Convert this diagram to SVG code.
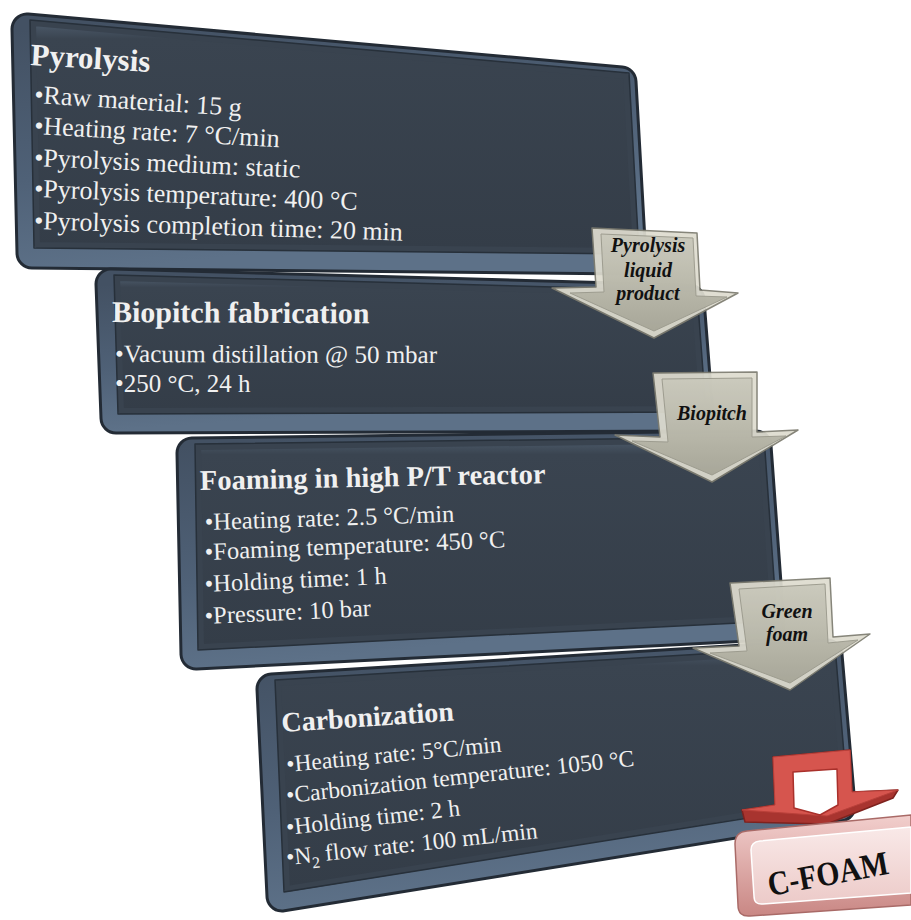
<svg xmlns="http://www.w3.org/2000/svg" width="911" height="920" viewBox="0 0 911 920">
<defs>
<linearGradient id="frameG" x1="0" y1="0" x2="0.3" y2="1"><stop offset="0" stop-color="#435163"/><stop offset="0.6" stop-color="#4f6177"/><stop offset="1" stop-color="#5d7188"/></linearGradient>
<linearGradient id="panelG" x1="0" y1="0" x2="0" y2="1"><stop offset="0" stop-color="#4c5a6a"/><stop offset="0.07" stop-color="#3a4450"/><stop offset="1" stop-color="#343d48"/></linearGradient>
<linearGradient id="arrowG" x1="0" y1="0" x2="0" y2="1"><stop offset="0" stop-color="#cac9bc"/><stop offset="0.5" stop-color="#b9b8aa"/><stop offset="1" stop-color="#a5a496"/></linearGradient>
<linearGradient id="pinkG" x1="0" y1="0" x2="0" y2="1"><stop offset="0" stop-color="#f2cfcd"/><stop offset="1" stop-color="#c98784"/></linearGradient>
<linearGradient id="pinkIn" x1="0" y1="0" x2="0" y2="1"><stop offset="0" stop-color="#f9e9e8"/><stop offset="1" stop-color="#eccac8"/></linearGradient>
</defs>
<style>
.rim{fill:#232b35;stroke:#232b35;stroke-width:33;stroke-linejoin:round}
.frame{fill:url(#frameG);stroke:url(#frameG);stroke-width:27;stroke-linejoin:round}
.panel{fill:url(#panelG);stroke:#39434f;stroke-width:6;stroke-linejoin:round}
.pedge{fill:none;stroke:#27303a;stroke-width:1.5;stroke-linejoin:round}
.t{font-family:"Liberation Serif","Times New Roman",serif;fill:#f0f0f0}
.h{font-weight:bold}
.ab{fill:#dedccf;stroke:#7d7c70;stroke-width:1.5;stroke-linejoin:round;opacity:0.93}
.af{fill:url(#arrowG);stroke:#9a998c;stroke-width:1;opacity:0.93}
.al{font-family:"Liberation Serif","Times New Roman",serif;font-style:italic;font-weight:bold;font-size:20px;fill:#111;text-anchor:middle}
</style>

<g id="node-pyrolysis">
<polygon class="rim" points="27,29 621,82 631,259 32,253"/>
<polygon class="frame" points="27,29 621,82 631,259 32,253"/>
<polygon class="panel" points="33,23 626,76 636,251 37,245"/>
<polygon class="pedge" points="30,20 629,73 639,254 34,248"/>
<text class="t h" font-size="31" transform="translate(30,65) rotate(3.3)">Pyrolysis</text>
<g class="t" font-size="26">
<text transform="translate(34,103) rotate(3.6)">•Raw material: 15 g</text>
<text transform="translate(34,134) rotate(3.1)">•Heating rate: 7 °C/min</text>
<text transform="translate(34,166) rotate(2.5)">•Pyrolysis medium: static</text>
<text transform="translate(34,197) rotate(2.3)">•Pyrolysis temperature: 400 °C</text>
<text transform="translate(34,229) rotate(1.8)">•Pyrolysis completion time: 20 min</text>
</g>
</g>

<g id="node-biopitch">
<polygon class="rim" points="111,284 689,300 698,416 116,418"/>
<polygon class="frame" points="111,284 689,300 698,416 116,418"/>
<polygon class="panel" points="117,278 694,294 703,409 121,411"/>
<polygon class="pedge" points="114,275 697,291 706,412 118,414"/>
<text class="t h" font-size="30" transform="translate(112,322) rotate(0.3)">Biopitch fabrication</text>
<g class="t" font-size="25">
<text transform="translate(115,362) rotate(0.2)">•Vacuum distillation @ 50 mbar</text>
<text transform="translate(115,392)">•250 °C, 24 h</text>
</g>
</g>

<g id="node-foaming">
<polygon class="rim" points="192,453 756,446 769,625 196,654"/>
<polygon class="frame" points="192,453 756,446 769,625 196,654"/>
<polygon class="panel" points="198,447 761,440 774,618 201,647"/>
<polygon class="pedge" points="195,444 764,437 777,621 198,650"/>
<text class="t h" font-size="28.5" transform="translate(200,490) rotate(-1.1)">Foaming in high P/T reactor</text>
<g class="t" font-size="24.5">
<text transform="translate(205,530) rotate(-1.9)">•Heating rate: 2.5 °C/min</text>
<text transform="translate(205,560) rotate(-2.4)">•Foaming temperature: 450 °C</text>
<text transform="translate(205,592) rotate(-2.6)">•Holding time: 1 h</text>
<text transform="translate(205,624) rotate(-2.8)">•Pressure: 10 bar</text>
</g>
</g>

<g id="node-carbonization">
<polygon class="rim" points="272,689 827,655 840,806 282,896"/>
<polygon class="frame" points="272,689 827,655 840,806 282,896"/>
<polygon class="panel" points="278,683 832,649 845,799 287,889"/>
<polygon class="pedge" points="275,680 835,646 848,802 284,892"/>
<text class="t h" font-size="28" transform="translate(282,732) rotate(-3.8)">Carbonization</text>
<g class="t" font-size="23.5">
<text transform="translate(287,772) rotate(-5.4)">•Heating rate: 5°C/min</text>
<text transform="translate(287,803) rotate(-6.1)">•Carbonization temperature: 1050 °C</text>
<text transform="translate(287,835) rotate(-6.4)">•Holding time: 2 h</text>
<text transform="translate(287,865) rotate(-6.1)">•N<tspan font-size="16" dy="6">2</tspan><tspan dy="-6"> flow rate: 100 mL/min</tspan></text>
</g>
</g>

<g id="connectors">
<g id="arrow-pyrolysis-liquid">
<polygon class="ab" points="592,228 697,233 700,290 738,293 654,338 552,288 596,287"/>
<polygon class="af" points="601,234 693,238 696,296 727,297 654,331 570,293 604,292"/>
<text class="al" x="648" y="252">Pyrolysis</text>
<text class="al" x="648" y="277">liquid</text>
<text class="al" x="648" y="300">product</text>
</g>
<g id="arrow-biopitch">
<polygon class="ab" points="653,373 757,372 757,432 798,430 712,482 615,435 660,437"/>
<polygon class="af" points="662,379 752,378 752,437 786,436 712,475 632,441 668,442"/>
<text class="al" x="712" y="420">Biopitch</text>
</g>
<g id="arrow-green-foam">
<polygon class="ab" points="730,583 830,578 833,637 870,634 790,690 693,648 739,646"/>
<polygon class="af" points="739,589 825,584 828,643 858,640 790,683 710,653 747,651"/>
<text class="al" x="787" y="618">Green</text>
<text class="al" x="787" y="641">foam</text>
</g>
<g id="arrow-cfoam">
<polygon points="773,757 850,750 852,792 898,790 893,798 827,824 745,822 742,810 775,805" fill="#a8342f" stroke="#7e221e" stroke-width="1.5" stroke-linejoin="round"/>
<polygon points="773,757 850,750 852,792 898,790 827,816 742,810 775,805" fill="#d6554e" stroke="#b9403a" stroke-width="1" stroke-linejoin="round"/>
<polygon points="793,772 837,769 838,805 820,815 794,808" fill="#ffffff" stroke="#a9302b" stroke-width="1.5" stroke-linejoin="round"/>
</g>
</g>

<g id="node-cfoam">
<path d="M747 831 L911 815 L911 905 L750 916 Q738 917 738 905 L735 844 Q735 832 747 831 Z" fill="url(#pinkG)" stroke="#a96a67" stroke-width="1.5"/>
<path d="M760 841 L911 827 L911 893 L763 904 Q754 905 754 896 L751 850 Q751 842 760 841 Z" fill="url(#pinkIn)" stroke="#ffffff" stroke-width="1.5"/>
<text font-family="Liberation Serif, Times New Roman, serif" font-weight="bold" font-size="34" fill="#111" textLength="122" lengthAdjust="spacingAndGlyphs" transform="translate(770,896) rotate(-10.5)">C-FOAM</text>
</g>
</svg>
